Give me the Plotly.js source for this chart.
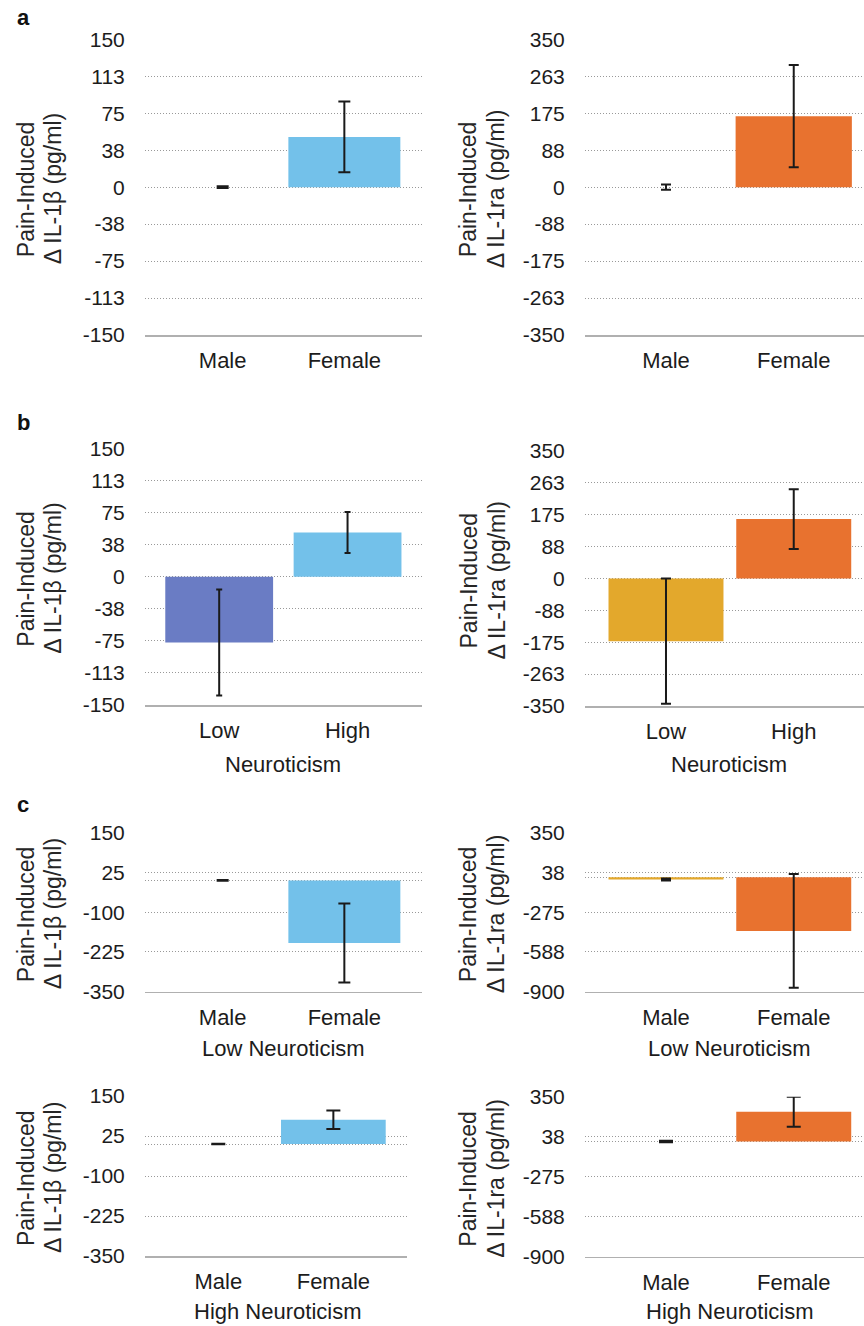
<!DOCTYPE html>
<html><head><meta charset="utf-8">
<script src="https://cdn.plot.ly/plotly-3.0.1.min.js"></script>
<style>html,body{margin:0;padding:0;background:#fff}</style>
</head><body>
<div id="chart" style="width:864px;height:1326px"></div>
<script>
// ---------------- data ----------------
const sexCats = ['Male', 'Female'];
const neuroCats = ['Low', 'High'];

// panel a: sex differences
const aIL1bMean = [0, 51];
const aIL1bErr = [0.8, 36];
const aIL1raMean = [0, 168];
const aIL1raErr = [6, 121];

// panel b: neuroticism
const bIL1bMean = [-77, 51.5];
const bIL1bErr = [62, 24];
const bIL1raMean = [-172, 163];
const bIL1raErr = [172, 82];

// panel c: sex x neuroticism
const cLowIL1bMean = [0, -197];
const cLowIL1bErr = [1, 124];
const cLowIL1raMean = [-18, -422];
const cLowIL1raErr = [8, 447];
const cHighIL1bMean = [0, 76];
const cHighIL1bErr = [1, 29];
const cHighIL1raMean = [0, 233];
const cHighIL1raErr = [5, 117];

// tick values / labels
const ticksBetaAB = [150, 112.5, 75, 37.5, 0, -37.5, -75, -112.5, -150];
const labelsBetaAB = ['150', '113', '75', '38', '0', '-38', '-75', '-113', '-150'];
const ticksRaAB = [350, 262.5, 175, 87.5, 0, -87.5, -175, -262.5, -350];
const labelsRaAB = ['350', '263', '175', '88', '0', '-88', '-175', '-263', '-350'];
const ticksBetaC = [150, 25, 0, -100, -225, -350];
const labelsBetaC = ['150', '25', '', '-100', '-225', '-350'];
const ticksRaC = [350, 37.5, 0, -275, -587.5, -900];
const labelsRaC = ['350', '38', '', '-275', '-588', '-900'];

const titleBeta = ['Pain-Induced', 'Δ IL-1β (pg/ml)'];
const titleRa = ['Pain-Induced', 'Δ IL-1ra (pg/ml)'];

// ---------------- styles ----------------
const W = 864, H = 1326;
const FONT = 'Liberation Sans, Arial, Helvetica, sans-serif';
const TXT = '#1c1c1c';
const PURPLE = '#6a7cc4';
const SKY = '#73c1ea';
const GOLD = '#e3a82c';
const ORANGE = '#e8722f';

const panels = [
  {cats: sexCats, mean: aIL1bMean, err: aIL1bErr, tv: ticksBetaAB, tt: labelsBetaAB, yr: [-150, 150],
   box: [145, 422, 39.3, 335], xr: [-0.638, 1.638], bw: 0.92, col: [PURPLE, SKY], cap: 6, title: titleBeta, tx: [26, 53]},
  {cats: sexCats, mean: aIL1raMean, err: aIL1raErr, tv: ticksRaAB, tt: labelsRaAB, yr: [-350, 350],
   box: [585, 864, 39.3, 335], xr: [-0.634, 1.55], bw: 0.91, col: [GOLD, ORANGE], cap: 5, title: titleRa, tx: [468, 496]},
  {cats: neuroCats, mean: bIL1bMean, err: bIL1bErr, tv: ticksBetaAB, tt: labelsBetaAB, yr: [-150, 150],
   box: [145, 422, 448.3, 705], xr: [-0.578, 1.58], bw: 0.84, col: [PURPLE, SKY], cap: 3, title: titleBeta, tx: [26, 53]},
  {cats: neuroCats, mean: bIL1raMean, err: bIL1raErr, tv: ticksRaAB, tt: labelsRaAB, yr: [-350, 350],
   box: [585, 864, 451, 706], xr: [-0.634, 1.55], bw: 0.9, col: [GOLD, ORANGE], cap: 5, title: titleRa, tx: [468, 496]},
  {cats: sexCats, mean: cLowIL1bMean, err: cLowIL1bErr, tv: ticksBetaC, tt: labelsBetaC, yr: [-350, 150],
   box: [145, 422, 832.7, 991.7], xr: [-0.638, 1.638], bw: 0.92, col: [PURPLE, SKY], cap: 6, title: titleBeta, tx: [26, 53]},
  {cats: sexCats, mean: cLowIL1raMean, err: cLowIL1raErr, tv: ticksRaC, tt: labelsRaC, yr: [-900, 350],
   box: [585, 864, 832.7, 991.7], xr: [-0.634, 1.55], bw: 0.9, col: [GOLD, ORANGE], cap: 5, title: titleRa, tx: [468, 496]},
  {cats: sexCats, mean: cHighIL1bMean, err: cHighIL1bErr, tv: ticksBetaC, tt: labelsBetaC, yr: [-350, 150],
   box: [145, 407, 1096, 1256], xr: [-0.637, 1.64], bw: 0.91, col: [PURPLE, SKY], cap: 7, title: titleBeta, tx: [26, 53]},
  {cats: sexCats, mean: cHighIL1raMean, err: cHighIL1raErr, tv: ticksRaC, tt: labelsRaC, yr: [-900, 350],
   box: [585, 864, 1096.7, 1256.7], xr: [-0.634, 1.55], bw: 0.9, col: [GOLD, ORANGE], cap: 7, title: titleRa, tx: [468, 496]}
];

const px = x => x / W;
const py = y => 1 - y / H;

const data = [];
const layout = {
  width: W, height: H,
  margin: {l: 0, r: 0, t: 0, b: 0},
  paper_bgcolor: '#ffffff', plot_bgcolor: 'rgba(0,0,0,0)',
  showlegend: false, barmode: 'overlay',
  font: {family: FONT, color: TXT, size: 20},
  annotations: []
};

panels.forEach((p, i) => {
  const n = i + 1;
  const xa = n === 1 ? 'xaxis' : 'xaxis' + n;
  const ya = n === 1 ? 'yaxis' : 'yaxis' + n;
  const xr = n === 1 ? 'x' : 'x' + n;
  const yr = n === 1 ? 'y' : 'y' + n;
  data.push({
    type: 'bar', x: p.cats, y: p.mean, xaxis: xr, yaxis: yr,
    width: p.bw, marker: {color: p.col, line: {width: 0}},
    error_y: {type: 'data', array: p.err, visible: true, color: '#1a1a1a', thickness: 2, width: p.cap},
    hoverinfo: 'skip'
  });
  layout[xa] = {
    domain: [px(p.box[0]), px(p.box[1])], anchor: yr,
    type: 'category', range: p.xr, fixedrange: true,
    showline: true, linecolor: '#b0b0b0', linewidth: 1.5,
    showgrid: false, zeroline: false,
    ticks: 'outside', ticklen: 5, tickcolor: 'rgba(0,0,0,0)',
    tickfont: {family: FONT, size: 22, color: TXT}
  };
  layout[ya] = {
    domain: [py(p.box[3]), py(p.box[2])], anchor: xr,
    range: p.yr, fixedrange: true,
    tickmode: 'array', tickvals: p.tv, ticktext: p.tt,
    showline: false, zeroline: false,
    showgrid: true, gridcolor: '#999999', gridwidth: 1, griddash: '1px,2px',
    ticks: 'outside', ticklen: 15, tickcolor: 'rgba(0,0,0,0)',
    tickfont: {family: FONT, size: 21, color: TXT}
  };
  const cy = (p.box[2] + p.box[3]) / 2 + 2;
  p.title.forEach((t, k) => {
    layout.annotations.push({
      xref: 'paper', yref: 'paper', x: px(p.tx[k]), y: py(cy),
      xanchor: 'center', yanchor: 'middle', textangle: -90, showarrow: false,
      text: t, font: {family: FONT, size: 23, color: '#262626'}
    });
  });
});

// panel letters
[['a', 18], ['b', 422], ['c', 805]].forEach(([t, y]) => {
  layout.annotations.push({
    xref: 'paper', yref: 'paper', x: px(15), y: py(y), xanchor: 'left', yanchor: 'middle',
    showarrow: false, text: '<b>' + t + '</b>', font: {family: FONT, size: 22, color: '#111'}
  });
});

// group titles under x axes
[['Neuroticism', 283, 765, 'middle'], ['Neuroticism', 729, 765, 'middle'],
 ['Low Neuroticism', 283, 1048, 'middle'], ['Low Neuroticism', 729, 1048, 'middle'],
 ['High Neuroticism', 278, 1326, 'bottom'], ['High Neuroticism', 730, 1326, 'bottom']].forEach(([t, x, y, va]) => {
  layout.annotations.push({
    xref: 'paper', yref: 'paper', x: px(x), y: py(y), xanchor: 'center', yanchor: va,
    showarrow: false, text: t, font: {family: FONT, size: 22, color: TXT}
  });
});

Plotly.newPlot('chart', data, layout, {displayModeBar: false, staticPlot: true});
</script>
</body></html>
